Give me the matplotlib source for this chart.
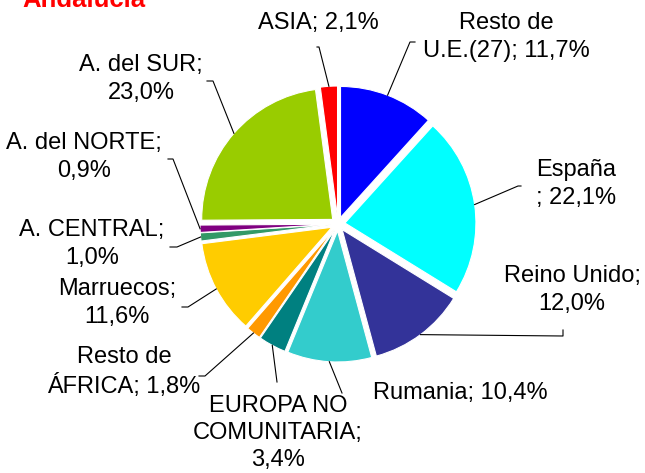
import numpy as np
import matplotlib.pyplot as plt

# data (percent of total, clockwise from top)
labels = ["Resto de\nU.E.(27); 11,7%", "España\n; 22,1%", "Reino Unido;\n12,0%",
          "Rumania; 10,4%", "EUROPA NO\nCOMUNITARIA;\n3,4%", "Resto de\nÁFRICA; 1,8%",
          "Marruecos;\n11,6%", "A. CENTRAL;\n1,0%", "A. del NORTE;\n0,9%",
          "A. del SUR;\n23,0%", "ASIA; 2,1%"]
values = [11.7, 22.1, 12.0, 10.4, 3.4, 1.8, 11.6, 1.0, 0.9, 23.0, 2.1]
colors = ["#0000FF", "#00FFFF", "#333399", "#33CCCC", "#008080", "#FF9900",
          "#FFCC00", "#339966", "#800080", "#99CC00", "#FF0000"]

# layout in pixels (y measured from top of image)
W, H = 645, 473
cx, cy = 338, 224
R = 131
expl = 7
text_pos = [(506, 37), (576, 184), (572, 290), (460, 393), (278, 433), (124, 372),
            (117, 303), (92, 244), (84, 157), (141, 79), (318, 23)]
elbows = [(410, 42), (518, 186), (563, 336), (342, 393), (277, 382), (205, 376),
          (188, 307), (177, 247), (173, 159), (213, 81), (319, 47)]
ends = [(415, 42), (521, 186), (563, 330), (342, 393), (277, 382), (199, 376),
        (182, 307), (170, 247), (168, 159), (207, 81), (317, 47)]


def py(y):
    return H - y


plt.rcParams['font.family'] = ['Liberation Sans', 'DejaVu Sans']

fig = plt.figure(figsize=(W / 100, H / 100), dpi=100)
ax = fig.add_axes([0, 0, 1, 1])

wedges, _ = ax.pie(values, colors=colors, startangle=90, counterclock=False,
                   explode=[expl] * len(values), radius=R, center=(cx, py(cy)),
                   wedgeprops=dict(edgecolor='white', linewidth=0.8))
ax.set_xlim(0, W)
ax.set_ylim(0, H)
ax.set_aspect('equal')
ax.axis('off')

# labels with leader lines
for w, lab, tp, el, en in zip(wedges, labels, text_pos, elbows, ends):
    ang = np.deg2rad((w.theta1 + w.theta2) / 2)
    x0 = cx + (R + expl) * np.cos(ang)
    y0 = py(cy) + (R + expl) * np.sin(ang)
    ax.plot([x0, el[0], en[0]], [y0, py(el[1]), py(en[1])], color='black', lw=0.8)
    ax.text(tp[0], py(tp[1]), lab, ha='center', va='center', multialignment='center',
            fontsize=17, linespacing=1.3, color='black')

# title, cut at the top of the picture
ax.text(22, py(7), "Andalucía", color='#FF0000', fontsize=18.5, fontweight='bold',
        ha='left', va='baseline')

fig.savefig('out.png', dpi=100)
